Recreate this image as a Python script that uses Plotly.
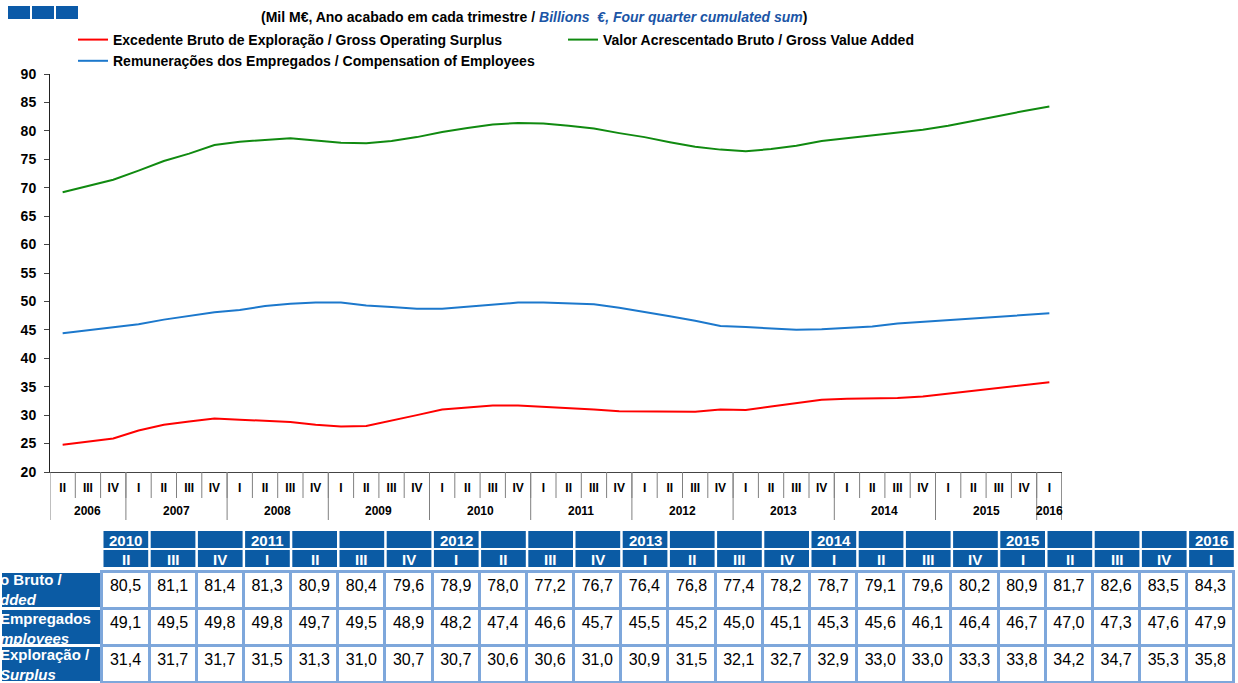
import plotly.graph_objects as go

W, H = 1238, 683
FONT = "Liberation Sans"

# ---------------- data ----------------
years = ["2006"] * 3 + [str(y) for y in range(2007, 2016) for _ in range(4)] + ["2016"]
quarters = ["II", "III", "IV"] + ["I", "II", "III", "IV"] * 9 + ["I"]

# 2006 II - 2010 I
gva_early = [69.2, 70.3, 71.4, 73.0, 74.7, 76.0, 77.5, 78.1, 78.4, 78.7, 78.3, 77.9, 77.8, 78.2, 78.9, 79.8]
coe_early = [44.4, 44.9, 45.4, 46.0, 46.8, 47.4, 48.1, 48.5, 49.2, 49.6, 49.8, 49.8, 49.3, 49.0, 48.7, 48.7]
gos_early = [24.8, 25.3, 25.9, 27.3, 28.3, 28.9, 29.4, 29.2, 29.0, 28.8, 28.3, 28.0, 28.1, 29.0, 30.0, 31.0]

# 2010 II - 2016 I (table)
gva_table = [80.5, 81.1, 81.4, 81.3, 80.9, 80.4, 79.6, 78.9, 78.0, 77.2, 76.7, 76.4,
             76.8, 77.4, 78.2, 78.7, 79.1, 79.6, 80.2, 80.9, 81.7, 82.6, 83.5, 84.3]
coe_table = [49.1, 49.5, 49.8, 49.8, 49.7, 49.5, 48.9, 48.2, 47.4, 46.6, 45.7, 45.5,
             45.2, 45.0, 45.1, 45.3, 45.6, 46.1, 46.4, 46.7, 47.0, 47.3, 47.6, 47.9]
gos_table = [31.4, 31.7, 31.7, 31.5, 31.3, 31.0, 30.7, 30.7, 30.6, 30.6, 31.0, 30.9,
             31.5, 32.1, 32.7, 32.9, 33.0, 33.0, 33.3, 33.8, 34.2, 34.7, 35.3, 35.8]

gva = gva_early + gva_table
coe = coe_early + coe_table
gos = gos_early + gos_table

row_labels = ["o Bruto /<br><i>dded</i>",
              "Empregados<br><i>mployees</i>",
              "Exploração /<br><i>Surplus</i>"]

names = ["Excedente Bruto de Exploração / Gross Operating Surplus",
         "Valor Acrescentado Bruto / Gross Value Added",
         "Remunerações dos Empregados / Compensation of Employees"]

# ---------------- helpers ----------------
def px(x):
    return x / W

def py(y):
    return 1 - y / H

TBLUE = "#0B5BA4"
LBLUE = "#7EA7DB"
N = len(quarters)
idx = list(range(N))
PLOT_H = 472 - 74  # px height of plot area

fig = go.Figure()
for name, vals, col in [(names[0], gos, "#FF0000"),
                        (names[1], gva, "#108A10"),
                        (names[2], coe, "#1C78CC")]:
    fig.add_trace(go.Scatter(x=idx, y=vals, mode="lines", name=name,
                             line=dict(color=col, width=2), xaxis="x", yaxis="y"))

annotations = []
shapes = []

# ---------------- category axis decorations ----------------
for i in range(N - 1):
    shapes.append(dict(type="line", xref="x", yref="y domain", x0=i + 0.5, x1=i + 0.5,
                       y0=0, y1=-26 / PLOT_H, line=dict(color="#808080", width=1)))
groups = []
for i, y in enumerate(years):
    if not groups or groups[-1][0] != y:
        groups.append([y, i, i])
    else:
        groups[-1][2] = i
for y, a, b in groups:
    shapes.append(dict(type="line", xref="x", yref="y domain", x0=a - 0.5, x1=a - 0.5,
                       y0=0, y1=-48 / PLOT_H, line=dict(color="#808080", width=1)))
    annotations.append(dict(xref="x", yref="y domain", x=(a + b) / 2, y=-39 / PLOT_H,
                            xanchor="center", yanchor="middle", showarrow=False, text=y,
                            font=dict(family=FONT, size=12, color="black", weight="bold")))
shapes.append(dict(type="line", xref="x", yref="y domain", x0=N - 0.5, x1=N - 0.5,
                   y0=0, y1=-48 / PLOT_H, line=dict(color="#222222", width=1)))

# ---------------- table ----------------
n0 = len(gva_early)
t_quarters = quarters[n0:]
t_years = [years[n0 + i] if (i == 0 or t_quarters[i] == "I") else "" for i in range(len(t_quarters))]

def fmt(v):
    return f"{v:.1f}".replace(".", ",")

LABEL_W = 102
COL_W = 47.2
colw = [LABEL_W] + [COL_W] * len(t_quarters)
TBL_R = LABEL_W + COL_W * len(t_quarters)

for j, (ty, tq) in enumerate(zip(t_years, t_quarters)):
    x0 = LABEL_W + j * COL_W + 1.5
    x1 = LABEL_W + (j + 1) * COL_W - 1
    for (ya, yb), txt in (((531, 548), ty), ((550, 567), tq)):
        shapes.append(dict(type="rect", xref="paper", yref="paper", x0=px(x0), x1=px(x1),
                           y0=py(yb), y1=py(ya), fillcolor=TBLUE, line=dict(width=0)))
        if txt:
            annotations.append(dict(xref="paper", yref="paper", x=px((x0 + x1) / 2), y=py((ya + yb) / 2 + 0.5),
                                    xanchor="center", yanchor="middle", showarrow=False, text=txt,
                                    font=dict(family=FONT, size=15, color="white", weight="bold")))

fig.add_trace(go.Table(
    domain=dict(x=[0, px(TBL_R)], y=[0, py(571)]),
    columnwidth=colw,
    header=dict(values=[""] * len(colw), height=0, line=dict(width=0),
                fill=dict(color="rgba(0,0,0,0)")),
    cells=dict(values=[["", "", ""]] + [[fmt(a), fmt(b), fmt(c)] for a, b, c in zip(gva_table, coe_table, gos_table)],
               fill=dict(color=[TBLUE] + ["white"] * len(t_quarters)),
               line=dict(color=["white"] + [LBLUE] * len(t_quarters), width=3),
               font=dict(family=FONT, size=16, color="black"),
               align="center", height=37),
))

for lab, yc in zip(row_labels, [589, 628, 664]):
    annotations.append(dict(xref="paper", yref="paper", x=px(-2), y=py(yc), xanchor="left",
                            yanchor="middle", align="left", showarrow=False, text=lab,
                            font=dict(family=FONT, size=15, color="white", weight="bold")))

# ---------------- title & badge ----------------
annotations.append(dict(xref="paper", yref="paper", x=px(534), y=py(17), xanchor="center",
                        yanchor="middle", showarrow=False,
                        text="(Mil M€, Ano acabado em cada trimestre / "
                             "<span style='color:#1B55A6'><i>Billions  €, Four quarter cumulated sum</i></span>)",
                        font=dict(family=FONT, size=14, color="black", weight="bold")))

for x0 in (8, 32, 56):
    shapes.append(dict(type="rect", xref="paper", yref="paper", x0=px(x0), x1=px(x0 + 22),
                       y0=py(19), y1=py(6), fillcolor="#0B5AA8", line=dict(width=0)))

yax_common = dict(range=[20, 90], dtick=5, showgrid=False, zeroline=False, showline=True,
                  linecolor="#222222", linewidth=1, tickcolor="#444444", ticklen=5,
                  ticklabelstandoff=5, domain=[py(472), py(74)], anchor="x",
                  tickfont=dict(family=FONT, size=14, color="black", weight="bold"))

fig.update_layout(
    width=W, height=H,
    margin=dict(l=0, r=0, t=0, b=0, autoexpand=False),
    paper_bgcolor="white", plot_bgcolor="white",
    showlegend=True,
    legend=dict(orientation="h", x=px(73), y=py(24), xanchor="left", yanchor="top",
                entrywidth=445, entrywidthmode="pixels", bgcolor="rgba(0,0,0,0)",
                font=dict(family=FONT, size=14, color="black", weight="bold"),
                traceorder="normal"),
    xaxis=dict(domain=[px(50), px(1062)], range=[-0.5, N - 0.5],
               tickmode="array", tickvals=idx, ticktext=quarters,
               showgrid=False, zeroline=False, showline=True, linecolor="#444444",
               ticks="", ticklabelstandoff=5,
               tickfont=dict(family=FONT, size=12, color="black", weight="bold"),
               anchor="y"),
    yaxis=dict(side="left", ticks="outside", **yax_common),
    yaxis2=dict(side="right", overlaying="y", ticks="outside", **yax_common),
    yaxis3=dict(side="left", overlaying="y", ticks="inside", showticklabels=False, **yax_common),
    yaxis4=dict(side="right", overlaying="y", ticks="inside", showticklabels=False, **yax_common),
    annotations=annotations,
    shapes=shapes,
)

fig.write_html("out.html", config={"displayModeBar": False},
               post_script="document.body.style.margin='0';document.body.style.overflow='hidden';")
